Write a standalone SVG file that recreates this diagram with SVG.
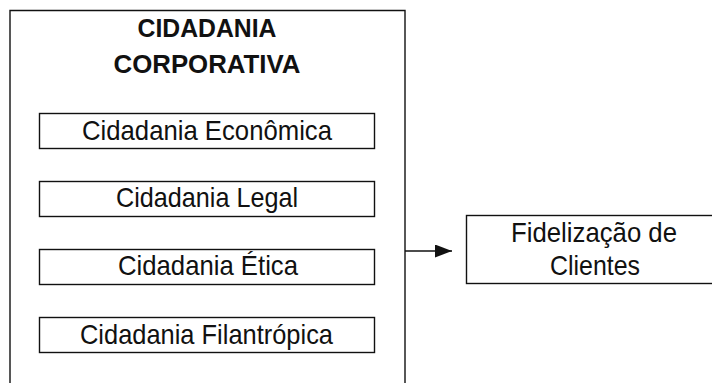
<svg xmlns="http://www.w3.org/2000/svg" width="712" height="383" viewBox="0 0 712 383">
<style>
.box{fill:#fff;stroke:#111;stroke-width:1.4}
.t{font-family:"Liberation Sans",Arial,sans-serif;font-size:28px;fill:#111}
.b{font-family:"Liberation Sans",Arial,sans-serif;font-size:26.5px;font-weight:bold;fill:#111}
.c{stroke:#111;stroke-width:1.4;fill:none}
</style>
<defs>
<marker id="ah" markerWidth="17" markerHeight="13" refX="17" refY="6.5" orient="auto" markerUnits="userSpaceOnUse">
<path d="M0,0 L17,6.5 L0,13 Z" fill="#111"/>
</marker>
</defs>
<rect width="712" height="383" fill="#fff"/>
<g id="cidadania-corporativa">
<path class="box" d="M10,395 V10.5 H405 V395"/>
<text class="b" x="207" y="37" text-anchor="middle" textLength="139" lengthAdjust="spacingAndGlyphs">CIDADANIA</text>
<text class="b" x="207" y="73" text-anchor="middle" textLength="187" lengthAdjust="spacingAndGlyphs">CORPORATIVA</text>
</g>
<g id="economica">
<rect class="box" x="39.5" y="113.5" width="335" height="35"/>
<text class="t" x="207" y="140" text-anchor="middle" textLength="250" lengthAdjust="spacingAndGlyphs">Cidadania Econômica</text>
</g>
<g id="legal">
<rect class="box" x="39.5" y="181.5" width="335" height="35"/>
<text class="t" x="207" y="207" text-anchor="middle" textLength="182" lengthAdjust="spacingAndGlyphs">Cidadania Legal</text>
</g>
<g id="etica">
<rect class="box" x="39.5" y="249.5" width="335" height="35"/>
<text class="t" x="208" y="275" text-anchor="middle" textLength="180" lengthAdjust="spacingAndGlyphs">Cidadania Ética</text>
</g>
<g id="filantropica">
<rect class="box" x="39.5" y="317.5" width="335" height="35"/>
<text class="t" x="206.5" y="344" text-anchor="middle" textLength="253" lengthAdjust="spacingAndGlyphs">Cidadania Filantrópica</text>
</g>
<g id="fidelizacao">
<rect class="box" x="466.5" y="215.5" width="260" height="68"/>
<text class="t" x="594" y="242" text-anchor="middle" textLength="166" lengthAdjust="spacingAndGlyphs">Fidelização de</text>
<text class="t" x="595" y="275" text-anchor="middle" textLength="90" lengthAdjust="spacingAndGlyphs">Clientes</text>
</g>
<g id="connectors">
<line class="c" x1="405" y1="251" x2="452" y2="251" marker-end="url(#ah)"/>
</g>
</svg>
